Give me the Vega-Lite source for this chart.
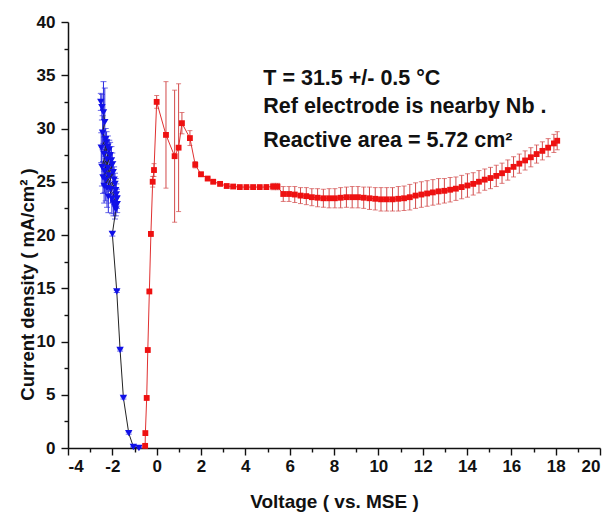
{
  "$schema": "https://vega.github.io/schema/vega-lite/v6.json",
  "width": 532,
  "height": 426,
  "autosize": {"type": "none"},
  "padding": {"left": 68, "top": 22, "right": 11, "bottom": 66},
  "background": "white",
  "config": {
    "view": {"stroke": null},
    "font": "Liberation Sans",
    "axis": {
      "grid": false,
      "domainColor": "#111",
      "domainWidth": 1.5,
      "tickColor": "#111",
      "tickWidth": 1.4,
      "labelFont": "Liberation Sans",
      "labelFontWeight": "bold",
      "labelFontSize": 17,
      "labelColor": "#111",
      "titleFont": "Liberation Sans",
      "titleFontWeight": "bold",
      "titleFontSize": 18.5,
      "titleColor": "#111"
    }
  },
  "datasets": {
    "blue": [
      {"x": -2.52, "y": 32.5, "e": 0.8},
      {"x": -2.47, "y": 32.0, "e": 1.2},
      {"x": -2.40, "y": 31.5, "e": 2.9},
      {"x": -2.34, "y": 30.6, "e": 3.2},
      {"x": -2.44, "y": 29.6, "e": 1.6},
      {"x": -2.30, "y": 29.0, "e": 1.0},
      {"x": -2.50, "y": 28.2, "e": 1.4},
      {"x": -2.26, "y": 28.7, "e": 1.0},
      {"x": -2.38, "y": 27.6, "e": 1.6},
      {"x": -2.20, "y": 28.3, "e": 1.0},
      {"x": -2.47, "y": 26.4, "e": 1.8},
      {"x": -2.24, "y": 27.1, "e": 1.3},
      {"x": -2.14, "y": 28.0, "e": 0.9},
      {"x": -2.35, "y": 26.0, "e": 2.0},
      {"x": -2.10, "y": 27.5, "e": 1.2},
      {"x": -2.42, "y": 25.4, "e": 1.5},
      {"x": -2.20, "y": 26.3, "e": 1.4},
      {"x": -2.04, "y": 27.0, "e": 1.3},
      {"x": -2.30, "y": 25.2, "e": 2.0},
      {"x": -2.00, "y": 26.6, "e": 1.1},
      {"x": -2.15, "y": 25.6, "e": 1.5},
      {"x": -2.37, "y": 24.6, "e": 1.6},
      {"x": -1.96, "y": 25.9, "e": 1.0},
      {"x": -2.24, "y": 24.4, "e": 1.8},
      {"x": -1.92, "y": 25.2, "e": 1.2},
      {"x": -2.08, "y": 24.3, "e": 1.3},
      {"x": -1.88, "y": 24.8, "e": 1.0},
      {"x": -2.18, "y": 23.6, "e": 1.5},
      {"x": -1.85, "y": 24.2, "e": 1.1},
      {"x": -2.02, "y": 23.4, "e": 1.4},
      {"x": -1.82, "y": 23.8, "e": 1.0},
      {"x": -1.95, "y": 23.0, "e": 1.2},
      {"x": -1.79, "y": 23.4, "e": 0.9},
      {"x": -1.88, "y": 22.6, "e": 1.1},
      {"x": -1.78, "y": 22.9, "e": 0.8},
      {"x": -1.84, "y": 22.4, "e": 0.6},
      {"x": -2.00, "y": 20.1, "e": 0.2},
      {"x": -1.80, "y": 14.7, "e": 0.1},
      {"x": -1.65, "y": 9.2, "e": 0.1},
      {"x": -1.50, "y": 4.7, "e": 0.1},
      {"x": -1.26, "y": 1.4, "e": 0.1},
      {"x": -1.05, "y": 0.1, "e": 0.05},
      {"x": -0.80, "y": 0.0, "e": 0.05}
    ],
    "red": [
      {"x": -0.52, "y": 0.2, "e": 0.1},
      {"x": -0.51, "y": 1.4, "e": 0.1},
      {"x": -0.45, "y": 4.7, "e": 0.1},
      {"x": -0.40, "y": 9.2, "e": 0.1},
      {"x": -0.33, "y": 14.7, "e": 0.1},
      {"x": -0.26, "y": 20.1, "e": 0.2},
      {"x": -0.18, "y": 25.0, "e": 0.5},
      {"x": -0.12, "y": 26.1, "e": 0.6},
      {"x": 0.00, "y": 32.5, "e": 0.6},
      {"x": 0.42, "y": 29.4, "e": 5.0},
      {"x": 0.81, "y": 27.4, "e": 6.2},
      {"x": 0.99, "y": 28.2, "e": 6.0},
      {"x": 1.14, "y": 30.5, "e": 1.0},
      {"x": 1.50, "y": 29.1, "e": 0.7},
      {"x": 1.74, "y": 26.6, "e": 0.3},
      {"x": 2.00, "y": 25.7, "e": 0.2},
      {"x": 2.30, "y": 25.3, "e": 0.1},
      {"x": 2.55, "y": 25.0, "e": 0.1},
      {"x": 2.86, "y": 24.8, "e": 0.1},
      {"x": 3.16, "y": 24.6, "e": 0.1},
      {"x": 3.45, "y": 24.55, "e": 0.1},
      {"x": 3.75, "y": 24.5, "e": 0.1},
      {"x": 4.05, "y": 24.5, "e": 0.1},
      {"x": 4.35, "y": 24.5, "e": 0.1},
      {"x": 4.65, "y": 24.5, "e": 0.15},
      {"x": 4.95, "y": 24.5, "e": 0.2},
      {"x": 5.25, "y": 24.55, "e": 0.3},
      {"x": 5.45, "y": 24.55, "e": 0.3},
      {"x": 5.71, "y": 23.85, "e": 0.7},
      {"x": 5.97, "y": 23.85, "e": 0.7},
      {"x": 6.23, "y": 23.8, "e": 0.75},
      {"x": 6.49, "y": 23.7, "e": 0.75},
      {"x": 6.75, "y": 23.65, "e": 0.8},
      {"x": 7.00, "y": 23.55, "e": 0.8},
      {"x": 7.26, "y": 23.5, "e": 0.85},
      {"x": 7.52, "y": 23.45, "e": 0.85},
      {"x": 7.78, "y": 23.45, "e": 0.9},
      {"x": 8.04, "y": 23.45, "e": 0.9},
      {"x": 8.30, "y": 23.5, "e": 0.95},
      {"x": 8.56, "y": 23.55, "e": 0.95},
      {"x": 8.82, "y": 23.55, "e": 1.0},
      {"x": 9.08, "y": 23.55, "e": 1.0},
      {"x": 9.34, "y": 23.5, "e": 1.0},
      {"x": 9.60, "y": 23.45, "e": 1.05},
      {"x": 9.86, "y": 23.4, "e": 1.05},
      {"x": 10.12, "y": 23.35, "e": 1.1},
      {"x": 10.38, "y": 23.35, "e": 1.1},
      {"x": 10.64, "y": 23.35, "e": 1.1},
      {"x": 10.90, "y": 23.4, "e": 1.15},
      {"x": 11.16, "y": 23.45, "e": 1.15},
      {"x": 11.42, "y": 23.55, "e": 1.2},
      {"x": 11.68, "y": 23.7, "e": 1.2},
      {"x": 11.94, "y": 23.8, "e": 1.2},
      {"x": 12.20, "y": 23.9, "e": 1.2},
      {"x": 12.46, "y": 24.0, "e": 1.2},
      {"x": 12.72, "y": 24.1, "e": 1.2},
      {"x": 12.98, "y": 24.15, "e": 1.15},
      {"x": 13.24, "y": 24.25, "e": 1.15},
      {"x": 13.50, "y": 24.35, "e": 1.1},
      {"x": 13.76, "y": 24.5, "e": 1.1},
      {"x": 14.02, "y": 24.65, "e": 1.1},
      {"x": 14.28, "y": 24.8, "e": 1.05},
      {"x": 14.54, "y": 25.0, "e": 1.05},
      {"x": 14.80, "y": 25.2, "e": 1.0},
      {"x": 15.06, "y": 25.35, "e": 1.0},
      {"x": 15.32, "y": 25.55, "e": 1.0},
      {"x": 15.58, "y": 25.8, "e": 0.95},
      {"x": 15.84, "y": 26.1, "e": 0.95},
      {"x": 16.10, "y": 26.4, "e": 0.95},
      {"x": 16.36, "y": 26.7, "e": 0.9},
      {"x": 16.62, "y": 27.0, "e": 0.9},
      {"x": 16.88, "y": 27.3, "e": 0.9},
      {"x": 17.14, "y": 27.6, "e": 0.85},
      {"x": 17.40, "y": 27.9, "e": 0.85},
      {"x": 17.66, "y": 28.2, "e": 0.85},
      {"x": 17.92, "y": 28.6, "e": 0.85},
      {"x": 18.07, "y": 28.85, "e": 0.85}
    ],
    "notes": [
      {"x": 4.81, "y": 34.08, "label": "T = 31.5 +/- 0.5 °C"},
      {"x": 4.81, "y": 31.43, "label": "Ref electrode is nearby Nb ."},
      {"x": 4.81, "y": 28.29, "label": "Reactive area = 5.72 cm²"}
    ]
  },
  "encoding": {
    "x": {
      "field": "x",
      "type": "quantitative",
      "scale": {"domain": [-4, 20], "nice": false, "zero": false},
      "axis": {
        "title": "Voltage ( vs. MSE )",
        "values": [-4, -3, -2, -1, 0, 1, 2, 3, 4, 5, 6, 7, 8, 9, 10, 11, 12, 13, 14, 15, 16, 17, 18, 19, 20],
        "labelExpr": "datum.value % 2 === 0 ? '' + datum.value : ''",
        "tickSize": {"condition": {"test": "datum.value % 2 === 0", "value": 7}, "value": 4},
        "labelPadding": 3,
        "titleFontSize": 19,
        "titlePadding": 18
      }
    },
    "y": {
      "field": "y",
      "type": "quantitative",
      "scale": {"domain": [0, 40], "nice": false},
      "axis": {
        "title": "Current density ( mA/cm² )",
        "values": [0, 2.5, 5, 7.5, 10, 12.5, 15, 17.5, 20, 22.5, 25, 27.5, 30, 32.5, 35, 37.5, 40],
        "labelExpr": "datum.value % 5 === 0 ? '' + datum.value : ''",
        "tickSize": {"condition": {"test": "datum.value % 5 === 0", "value": 7}, "value": 4},
        "labelPadding": 6,
        "titleX": -41,
        "titleY": 262,
        "titleAngle": 270,
        "titleAlign": "center",
        "titleBaseline": "middle"
      }
    }
  },
  "layer": [
    {
      "data": {"name": "blue"},
      "mark": {"type": "errorbar", "ticks": {"size": 6}, "color": "#2a2ae0", "thickness": 1},
      "encoding": {"yError": {"field": "e"}}
    },
    {
      "data": {"name": "red"},
      "mark": {"type": "errorbar", "ticks": {"size": 5}, "color": "#d24a4a", "thickness": 1},
      "encoding": {"yError": {"field": "e"}}
    },
    {
      "data": {"name": "blue"},
      "mark": {"type": "line", "color": "#222", "strokeWidth": 1},
      "encoding": {"order": {"value": null}}
    },
    {
      "data": {"name": "red"},
      "mark": {"type": "line", "color": "#e03030", "strokeWidth": 1},
      "encoding": {"order": {"value": null}}
    },
    {
      "data": {"name": "blue"},
      "mark": {"type": "point", "shape": "triangle-down", "filled": true, "color": "#1010e8", "size": 55, "opacity": 1},
      "encoding": {}
    },
    {
      "data": {"name": "red"},
      "mark": {"type": "point", "shape": "square", "filled": true, "color": "#ee1111", "size": 34, "opacity": 1},
      "encoding": {}
    },
    {
      "data": {"name": "notes"},
      "mark": {"type": "text", "align": "left", "baseline": "alphabetic", "font": "Liberation Sans", "fontWeight": "bold", "fontSize": 21.5, "color": "#111"},
      "encoding": {"text": {"field": "label"}}
    }
  ]
}
